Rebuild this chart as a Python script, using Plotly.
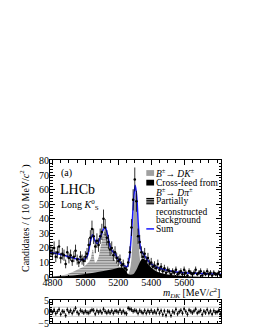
import numpy as np
import plotly.graph_objects as go

FONT = "Liberation Serif"

# ---------------- data ----------------
bin_centers = [4790 + 10 * i for i in range(104)]
counts = [18, 16, 20, 14, 17, 21, 13, 16, 15, 9,
          17, 13, 15, 11, 14, 18, 12, 10, 14, 12,
          11, 14, 16, 22, 27, 33, 28, 21, 25, 22,
          28, 31, 40, 34, 27, 24, 19, 20, 15, 17,
          13, 11, 12, 8, 9, 6, 5, 10, 17, 34,
          53, 67, 52, 28, 24, 17, 14, 16, 11, 13,
          9, 10, 7, 8, 6, 9, 5, 7, 4, 6,
          3, 5, 4, 2, 4, 3, 5, 2, 3, 4,
          2, 5, 3, 1, 4, 3, 2, 3, 5, 2,
          3, 4, 1, 3, 2, 4, 2, 3, 1, 3,
          2, 2, 3, 1]
pulls = [0.4, -0.3, 0.8, -0.7, 0.1, 1.0, -1.1, 0.2, 0.0, -1.6,
         0.9, -0.2, 0.5, -0.6, 0.4, 1.5, -0.2, -0.9, 0.6, 0.1,
         -0.4, 0.3, -0.3, -0.5, 0.2, 0.8, 0.6, -0.9, 0.4, -0.3,
         0.3, -0.4, 1.1, 0.1, -0.5, 0.2, -0.4, 0.4, -0.6, 0.3,
         0.2, -0.3, 0.7, -0.4, 0.3, -0.5, -0.8, 1.5, 1.2, 0.9,
         0.2, 0.6, 0.3, -0.6, 0.5, -0.1, -0.5, 0.5, -0.6, 0.4,
         -0.3, 0.5, -0.4, 0.2, -0.5, 0.9, -0.6, 0.4, -1.2, 0.3,
         -1.5, 0.2, -0.1, -1.6, 0.1, -0.4, 1.0, -0.9, 0.0, 0.6,
         -0.6, 1.2, 0.1, -1.1, 0.7, 0.2, -0.4, 0.3, 1.1, -0.5,
         0.0, 0.6, -1.2, 0.2, -0.4, 0.9, -0.5, 0.3, -1.0, 0.4,
         -0.3, -0.2, 0.5, -0.8]

sum_x = [4785, 4850, 4900, 4950, 4990, 5010, 5030, 5044, 5058, 5073, 5090, 5110, 5120,
         5135, 5150, 5162, 5180, 5200, 5220, 5240, 5252, 5265, 5280, 5295, 5303, 5312,
         5322, 5332, 5342, 5355, 5370, 5390, 5420, 5450, 5500, 5550, 5600, 5700, 5825]
sum_y = [17, 15.5, 14, 12.5, 12, 14, 24, 29, 25, 23, 27, 33, 34,
         29, 21, 18, 16, 12, 9, 7.5, 7, 12, 30, 56, 63, 55,
         35, 22, 17.5, 15.5, 13, 10, 7.5, 6, 4.5, 3.5, 3, 2.5, 2]

sig_x = [5200, 5240, 5260, 5275, 5285, 5295, 5303, 5312, 5322, 5332, 5345, 5360, 5400]
sig_y = [0, 0.5, 2, 8, 22, 48, 58, 50, 28, 12, 4, 1, 0]

xfeed_x = [4785, 4850, 4950, 5050, 5150, 5220, 5240, 5260, 5290, 5310, 5330, 5345,
           5360, 5380, 5400, 5430, 5470, 5520, 5600, 5700, 5825]
xfeed_y = [0, 0.5, 1.5, 3, 5, 6.5, 5, 2, 2, 5, 10, 12.5,
           12, 9, 6.5, 4, 2.5, 1.5, 0.8, 0.3, 0.1]

prec_x = [4785, 4850, 4900, 4950, 5000, 5030, 5045, 5060, 5075, 5095, 5115, 5125,
          5140, 5160, 5190, 5220, 5245, 5260]
prec_y = [0.3, 1, 2.5, 5, 8, 12, 19, 10, 12, 22, 31, 30,
          22, 15, 10, 5, 1, 0]

x_ticks = [4800, 5000, 5200, 5400, 5600]
y_ticks = [0, 10, 20, 30, 40, 50, 60, 70, 80]
pull_ticks = [-5, 0, 5]

# ---------------- figure ----------------
W, H = 255, 330
def px(x):
    return x / W
def py(y):
    return 1 - y / H

fig = go.Figure()

fig.add_trace(go.Scatter(x=prec_x, y=prec_y, mode="lines", line=dict(width=0, shape="spline"),
                         fill="tozeroy", fillcolor="white",
                         fillpattern=dict(shape="-", fgcolor="black", bgcolor="white", size=2.6, solidity=0.65),
                         hoverinfo="skip", showlegend=False, xaxis="x", yaxis="y"))
fig.add_trace(go.Scatter(x=sig_x, y=sig_y, mode="lines", line=dict(width=0, shape="spline", color="#a0a0a0"),
                         fill="tozeroy", fillcolor="#a0a0a0", showlegend=False, xaxis="x", yaxis="y"))
fig.add_trace(go.Scatter(x=xfeed_x, y=xfeed_y, mode="lines", line=dict(width=0, shape="spline", color="black"),
                         fill="tozeroy", fillcolor="black", showlegend=False, xaxis="x", yaxis="y"))
fig.add_trace(go.Scatter(x=sum_x, y=sum_y, mode="lines", line=dict(width=1.5, shape="spline", color="#1a1aff"),
                         showlegend=False, xaxis="x", yaxis="y"))
errs = list(np.sqrt(np.array(counts, dtype=float)))
fig.add_trace(go.Scatter(x=bin_centers, y=counts, mode="markers",
                         marker=dict(size=2.5, color="black"),
                         error_y=dict(type="data", array=errs, thickness=0.8, width=0, color="black"),
                         error_x=dict(type="constant", value=5, thickness=0.8, width=0, color="black"),
                         showlegend=False, xaxis="x", yaxis="y"))
fig.add_trace(go.Scatter(x=bin_centers, y=pulls, mode="markers",
                         marker=dict(size=2, color="black"),
                         error_y=dict(type="constant", value=1, thickness=0.8, width=0, color="black"),
                         error_x=dict(type="constant", value=5, thickness=0.8, width=0, color="black"),
                         showlegend=False, xaxis="x2", yaxis="y2"))

xr = [4785, 5825]
axis_common = dict(showline=True, linecolor="black", linewidth=1, mirror="ticks",
                   ticks="inside", ticklen=5, tickcolor="black", tickwidth=0.8,
                   showgrid=False, zeroline=False,
                   tickfont=dict(family=FONT, size=10, color="black"))

fig.update_layout(
    width=W, height=H, margin=dict(l=0, r=0, t=0, b=0),
    paper_bgcolor="white", plot_bgcolor="white",
    xaxis=dict(domain=[px(36), px(212)], range=xr, tickvals=x_ticks, ticktext=[str(v) for v in x_ticks],
               anchor="y", minor=dict(ticks="inside", ticklen=2.5, dtick=50, tickcolor="black"),
               ticklabelstandoff=-4, **axis_common),
    yaxis=dict(domain=[py(273), py(152)], range=[0, 80], tickvals=y_ticks, anchor="x",
               minor=dict(ticks="inside", ticklen=2.5, dtick=2, tickcolor="black"),
               ticklabelstandoff=-2, **axis_common),
    xaxis2=dict(domain=[px(36), px(212)], range=xr, tickvals=x_ticks, showticklabels=False,
                anchor="y2", minor=dict(ticks="inside", ticklen=2, dtick=50, tickcolor="black"),
                **axis_common),
    yaxis2=dict(domain=[py(321), py(297)], range=[-5, 5], tickvals=pull_ticks, anchor="x2",
                minor=dict(ticks="inside", ticklen=2, dtick=1, tickcolor="black"),
                ticklabelstandoff=-2, **axis_common),
)

# reference lines in pull panel
for v in [-2, 2]:
    fig.add_shape(type="line", xref="x2", yref="y2", x0=xr[0], x1=xr[1], y0=v, y1=v,
                  line=dict(color="#cccccc", width=1), layer="below")

def ann(text, x, y, size=10, xanchor="left", yanchor="middle", **kw):
    fig.add_annotation(text=text, x=px(x), y=py(y), xref="paper", yref="paper",
                       showarrow=False, xanchor=xanchor, yanchor=yanchor,
                       font=dict(family=FONT, size=size, color="black"), **kw)

ann("(a)", 45, 165)
ann("LHCb", 44, 182, size=14)
ann("Long <i>K</i><sup>0</sup><sub>S</sub>", 45, 198)
ann("Candidates / ( 10 MeV/<i>c</i><sup>2</sup> )", 10, 212, textangle=-90, xanchor="center", yanchor="middle")
ann("<i>m<sub>DK</sub></i> [MeV/<i>c</i><sup>2</sup>]", 213, 290, xanchor="right")

# legend
lx0, lx1 = 135, 143
def box(y0, y1, color):
    fig.add_shape(type="rect", xref="paper", yref="paper", x0=px(lx0), x1=px(lx1), y0=py(y1), y1=py(y0),
                  fillcolor=color, line=dict(width=0))
box(162, 168, "#a0a0a0")
box(172, 178, "black")
for yy in [191.5, 193.3, 195.1, 196.9]:
    fig.add_shape(type="line", xref="paper", yref="paper", x0=px(lx0), x1=px(lx1), y0=py(yy), y1=py(yy),
                  line=dict(color="black", width=1.2))
fig.add_shape(type="line", xref="paper", yref="paper", x0=px(lx0), x1=px(lx1), y0=py(223), y1=py(223),
              line=dict(color="#1a1aff", width=1.5))
LS = 9.5
ann("<i>B</i><sup>±</sup>→ <i>DK</i><sup>±</sup>", 143, 165, size=LS)
ann("Cross-feed from", 143, 175, size=LS)
ann("<i>B</i><sup>±</sup>→ <i>Dπ</i><sup>±</sup>", 143, 185, size=LS)
ann("Partially", 143, 194, size=LS)
ann("reconstructed", 143, 205, size=LS)
ann("background", 143, 214, size=LS)
ann("Sum", 143, 223, size=LS)

fig.write_html("out.html")
